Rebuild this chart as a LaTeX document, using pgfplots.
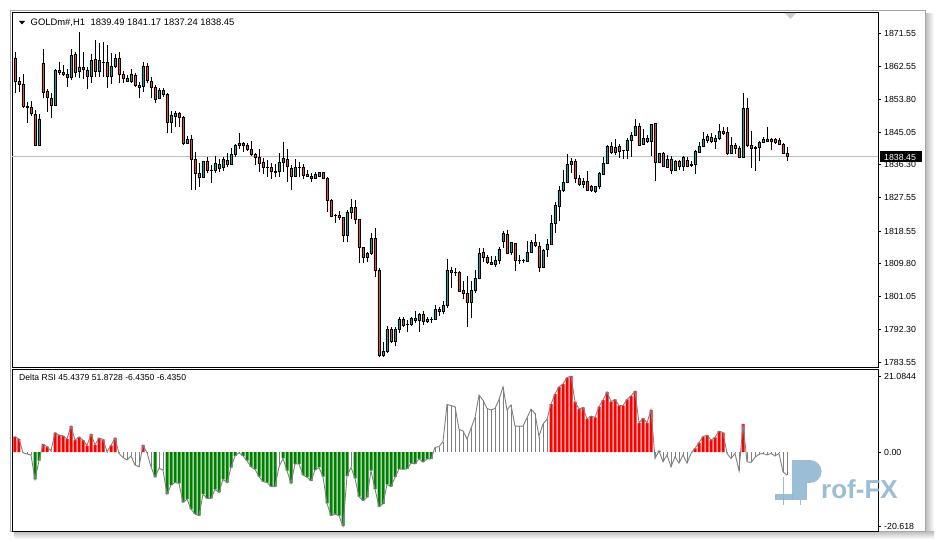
\documentclass[border=0pt]{standalone}
\usepackage{fontspec}
\setmainfont{Liberation Sans}
\usepackage{pgfplots}
\pgfplotsset{compat=1.18}
\usepackage{pgfplotstable}
\definecolor{bull}{RGB}{38,150,140}
\definecolor{bear}{RGB}{215,80,72}
\definecolor{pline}{RGB}{192,192,192}
\definecolor{dgray}{RGB}{128,128,128}
\definecolor{mtgreen}{RGB}{0,128,0}
\definecolor{wm}{RGB}{138,178,206}
\newcommand\lbl{\fontsize{8.8}{10}\selectfont}

\pgfplotstableread{
x o h l c
0 1864.77 1866.56 1855.41 1858.53
1 1858.53 1859.87 1855.86 1857.82
2 1857.91 1860.59 1851.40 1852.03
3 1852.03 1853.18 1847.57 1851.67
4 1851.67 1853.45 1849.35 1850.07
5 1849.80 1850.96 1841.42 1841.59
6 1841.59 1849.89 1841.33 1848.55
7 1863.44 1867.27 1854.08 1855.77
8 1855.86 1856.48 1850.51 1854.25
9 1854.08 1855.41 1848.90 1852.20
10 1852.20 1861.83 1852.03 1861.56
11 1861.56 1863.79 1860.32 1860.94
12 1861.12 1863.08 1860.05 1860.50
13 1860.50 1862.01 1857.02 1859.69
14 1859.69 1867.18 1858.98 1865.58
15 1865.84 1866.38 1859.69 1861.12
16 1861.30 1871.73 1859.43 1862.46
17 1862.46 1866.56 1859.16 1861.83
18 1861.56 1862.55 1856.48 1860.05
19 1860.05 1865.93 1858.27 1864.24
20 1864.51 1869.68 1859.87 1861.21
21 1861.21 1868.96 1859.87 1864.24
22 1863.79 1869.14 1859.69 1863.70
23 1863.79 1868.43 1856.75 1860.05
24 1860.05 1866.11 1857.82 1862.72
25 1862.72 1865.84 1862.10 1864.86
26 1864.77 1866.47 1858.09 1860.50
27 1860.50 1861.48 1858.27 1859.43
28 1859.43 1860.32 1858.53 1858.62
29 1858.62 1861.83 1858.27 1860.59
30 1860.32 1860.94 1857.19 1857.46
31 1857.55 1858.53 1854.08 1857.02
32 1857.19 1863.88 1855.86 1862.72
33 1862.72 1863.62 1858.09 1858.80
34 1858.71 1859.87 1854.08 1857.02
35 1857.02 1857.64 1852.74 1853.81
36 1854.08 1856.75 1853.81 1856.30
37 1856.21 1856.75 1854.52 1855.15
38 1855.15 1855.59 1844.72 1847.66
39 1847.66 1850.69 1844.89 1849.62
40 1849.35 1850.69 1846.50 1850.07
41 1850.07 1850.42 1846.32 1848.99
42 1848.99 1849.35 1841.59 1842.04
43 1842.04 1844.00 1841.86 1843.20
44 1843.20 1844.27 1829.56 1837.76
45 1837.76 1839.63 1829.56 1834.02
46 1834.02 1836.87 1830.45 1832.95
47 1832.95 1837.32 1832.68 1837.32
48 1837.32 1838.48 1834.02 1834.91
49 1834.91 1836.25 1831.52 1834.95
50 1834.73 1838.65 1834.19 1836.69
51 1835.35 1837.76 1834.46 1836.51
52 1835.62 1838.30 1834.73 1837.76
53 1837.58 1839.37 1835.80 1836.42
54 1836.42 1840.70 1836.25 1839.10
55 1839.10 1841.77 1838.30 1841.60
56 1841.51 1844.72 1840.44 1842.13
57 1842.13 1842.49 1839.81 1841.42
58 1841.60 1842.04 1840.08 1840.44
59 1840.44 1842.76 1838.65 1839.10
60 1839.10 1839.37 1836.25 1838.38
61 1838.38 1840.44 1834.46 1836.69
62 1836.96 1838.03 1833.75 1835.62
63 1835.62 1837.58 1833.12 1835.55
64 1835.62 1836.87 1832.41 1834.46
65 1834.46 1836.42 1832.95 1834.40
66 1834.46 1839.37 1833.12 1836.96
67 1836.96 1842.31 1834.46 1838.03
68 1837.85 1840.44 1831.79 1835.80
69 1835.35 1836.25 1829.56 1833.12
70 1833.12 1837.76 1833.12 1835.62
71 1835.62 1837.14 1833.12 1835.60
72 1835.62 1836.42 1832.41 1833.57
73 1833.84 1834.91 1832.95 1833.12
74 1833.30 1834.02 1831.79 1832.59
75 1832.59 1834.46 1832.41 1833.84
76 1833.22 1834.46 1832.95 1834.19
77 1834.19 1834.46 1832.41 1832.59
78 1832.68 1833.12 1823.77 1826.71
79 1826.88 1827.15 1822.25 1822.43
80 1822.70 1823.14 1820.82 1822.68
81 1822.78 1824.03 1821.54 1822.16
82 1822.25 1822.43 1815.74 1817.35
83 1817.35 1824.21 1815.74 1823.68
84 1823.50 1827.06 1821.72 1824.92
85 1824.92 1826.88 1820.47 1821.72
86 1821.72 1821.89 1809.95 1814.22
87 1814.22 1814.40 1810.12 1811.55
88 1811.55 1813.07 1810.21 1812.62
89 1812.62 1818.15 1812.17 1816.63
90 1816.63 1819.31 1806.38 1807.98
91 1808.16 1808.61 1784.81 1785.43
92 1785.43 1788.99 1784.81 1786.50
93 1786.32 1793.19 1785.88 1792.30
94 1792.30 1793.01 1788.72 1788.99
95 1788.99 1792.83 1787.93 1792.30
96 1792.30 1795.68 1791.22 1794.97
97 1795.06 1795.50 1793.01 1793.27
98 1793.72 1794.79 1791.66 1793.70
99 1793.63 1795.68 1793.19 1795.23
100 1794.61 1797.29 1794.08 1795.23
101 1794.61 1796.75 1791.67 1796.39
102 1796.39 1797.29 1793.45 1794.34
103 1794.34 1795.68 1794.08 1794.97
104 1794.97 1795.68 1793.90 1794.95
105 1794.97 1798.80 1794.79 1797.64
106 1797.64 1798.18 1795.86 1797.02
107 1797.02 1799.96 1796.39 1798.71
108 1798.71 1811.10 1797.91 1808.16
109 1808.16 1809.05 1803.44 1807.45
110 1807.45 1808.79 1806.56 1807.43
111 1807.45 1807.90 1802.37 1802.55
112 1802.72 1805.31 1800.32 1801.83
113 1801.92 1806.56 1793.01 1799.43
114 1799.43 1805.22 1795.23 1802.72
115 1802.72 1808.16 1801.92 1806.02
116 1806.02 1813.96 1805.67 1812.62
117 1812.89 1814.13 1810.39 1811.55
118 1811.55 1812.17 1809.68 1810.12
119 1810.30 1811.99 1809.50 1809.68
120 1809.68 1811.91 1809.05 1810.84
121 1810.84 1814.22 1809.68 1813.78
122 1815.74 1818.68 1814.13 1817.97
123 1817.70 1818.86 1812.35 1812.62
124 1812.80 1815.74 1812.17 1815.56
125 1815.29 1815.47 1807.98 1810.84
126 1810.66 1812.17 1809.77 1810.64
127 1810.66 1811.10 1809.95 1810.64
128 1810.57 1815.92 1810.39 1812.89
129 1812.89 1816.19 1812.62 1815.56
130 1815.56 1817.70 1814.22 1814.76
131 1814.58 1815.74 1807.54 1808.88
132 1808.79 1813.78 1808.61 1813.51
133 1813.69 1816.36 1811.73 1815.03
134 1815.03 1822.87 1814.85 1820.64
135 1820.64 1826.44 1818.15 1825.46
136 1825.28 1830.63 1821.36 1829.47
137 1829.47 1834.91 1829.11 1831.61
138 1831.52 1839.19 1831.34 1836.42
139 1836.42 1838.03 1834.02 1837.31
140 1837.22 1837.76 1831.34 1832.68
141 1832.68 1833.57 1830.72 1831.07
142 1831.07 1832.68 1830.18 1831.97
143 1831.97 1834.64 1829.29 1829.47
144 1830.63 1830.90 1829.11 1829.47
145 1829.20 1830.63 1828.67 1830.45
146 1830.45 1834.46 1829.82 1834.02
147 1833.84 1838.47 1833.66 1836.69
148 1836.69 1841.59 1836.51 1841.33
149 1841.24 1842.31 1839.19 1839.55
150 1839.55 1843.11 1838.92 1840.97
151 1841.24 1841.86 1838.03 1839.81
152 1840.08 1840.26 1837.76 1840.06
153 1840.08 1843.38 1837.76 1842.84
154 1842.75 1845.16 1838.48 1844.27
155 1844.27 1848.46 1843.99 1846.68
156 1846.68 1847.39 1841.33 1841.51
157 1841.77 1845.79 1841.60 1843.38
158 1843.38 1844.27 1842.22 1842.49
159 1842.49 1847.12 1838.65 1847.12
160 1847.30 1847.57 1832.06 1836.96
161 1836.96 1839.55 1836.69 1839.37
162 1839.37 1839.63 1835.62 1835.98
163 1835.62 1838.92 1835.35 1837.76
164 1837.76 1838.65 1833.84 1834.91
165 1834.91 1837.58 1834.73 1837.32
166 1837.32 1837.58 1834.91 1835.98
167 1835.98 1838.65 1834.73 1838.39
168 1837.58 1838.30 1835.62 1835.98
169 1836.51 1837.41 1835.62 1836.07
170 1836.42 1840.26 1833.84 1839.81
171 1839.55 1842.49 1839.37 1841.33
172 1841.33 1845.16 1840.97 1843.20
173 1842.93 1844.45 1842.04 1843.82
174 1843.74 1844.72 1842.04 1842.49
175 1842.49 1844.27 1840.53 1843.29
176 1843.29 1847.12 1842.93 1845.34
177 1845.34 1846.50 1844.27 1844.72
178 1844.89 1846.50 1838.92 1839.37
179 1839.37 1843.82 1839.19 1841.51
180 1841.51 1842.04 1839.19 1840.61
181 1840.70 1841.33 1838.03 1838.30
182 1838.30 1855.59 1838.03 1851.49
183 1851.49 1854.08 1841.15 1841.51
184 1841.51 1845.34 1835.53 1840.70
185 1840.97 1841.33 1834.73 1840.70
186 1840.97 1842.66 1837.41 1842.40
187 1842.22 1843.65 1842.04 1843.11
188 1842.66 1846.50 1842.49 1843.11
189 1843.11 1843.38 1840.26 1842.49
190 1843.11 1843.38 1841.77 1842.40
191 1842.93 1843.38 1841.77 1841.86
192 1841.86 1842.04 1839.19 1839.37
193 1839.49 1841.17 1837.24 1838.45
}\candles

\pgfplotstableread{
x v k
0 4.26 1
1 3.61 1
2 -0.2 0
3 -0.56 0
4 -0.83 0
5 -7.6 2
6 -2.4 2
7 2.2 1
8 1.5 1
9 0.3 0
10 5.4 1
11 4.7 1
12 4.5 1
13 3.6 1
14 7.2 1
15 3.3 1
16 4.2 1
17 3.3 1
18 1.8 1
19 5.0 1
20 2.0 1
21 3.9 1
22 3.5 1
23 0.1 0
24 1.85 1
25 3.9 1
26 -0.4 0
27 -1.5 0
28 -2.2 0
29 -1.1 0
30 -3.6 0
31 -4.1 0
32 1.9 1
33 -0.2 0
34 -4.1 0
35 -7.0 2
36 -4.5 0
37 -5.0 0
38 -11.7 2
39 -9.2 2
40 -8.5 2
41 -8.7 2
42 -14.0 2
43 -13.1 2
44 -15.9 2
45 -17.2 2
46 -17.7 2
47 -11.7 2
48 -12.9 2
49 -12.9 2
50 -10.4 2
51 -11.2 2
52 -7.6 2
53 -8.5 2
54 -4.35 2
55 -1.1 2
56 -0.2 0
57 -1.1 2
58 -2.4 2
59 -4.1 2
60 -4.8 2
61 -6.85 2
62 -8.2 2
63 -8.5 2
64 -9.6 2
65 -9.6 2
66 -4.1 0
67 -1.8 2
68 -5.2 2
69 -8.7 2
70 -3.3 2
71 -3.3 2
72 -6.4 2
73 -7.0 2
74 -8.0 2
75 -5.0 2
76 -4.3 2
77 -6.85 2
78 -14.3 2
79 -17.7 2
80 -17.2 2
81 -17.7 2
82 -20.618 2
83 -6.7 2
84 -4.3 0
85 -7.3 2
86 -12.4 2
87 -13.5 2
88 -12.6 2
89 -5.2 2
90 -10.3 2
91 -15.2 2
92 -14.4 2
93 -9.0 2
94 -9.6 2
95 -7.0 2
96 -4.7 2
97 -4.8 2
98 -4.7 2
99 -3.1 2
100 -3.3 2
101 -1.9 2
102 -2.8 2
103 -1.9 2
104 -1.9 2
105 1.3 0
106 1.5 0
107 2.9 0
108 13.2 0
109 12.9 0
110 12.6 0
111 6.3 0
112 5.9 0
113 3.6 0
114 6.6 0
115 9.6 0
116 15.8 0
117 14.4 0
118 12.1 0
119 11.7 0
120 12.1 0
121 14.6 0
122 18.1 0
123 11.7 0
124 13.1 0
125 7.2 0
126 7.2 0
127 7.2 0
128 9.5 0
129 11.9 0
130 10.7 0
131 4.3 0
132 7.8 0
133 9.1 0
134 13.3 1
135 16.1 1
136 18.1 1
137 18.9 1
138 20.7 1
139 21.0844 1
140 14.0 1
141 11.9 1
142 12.4 1
143 9.2 1
144 10.0 1
145 9.6 1
146 12.6 1
147 14.4 1
148 16.7 1
149 14.0 1
150 14.6 1
151 12.9 1
152 12.9 1
153 14.6 1
154 15.6 1
155 16.9 1
156 8.1 1
157 9.4 1
158 8.1 1
159 11.7 1
160 -1.8 0
161 0.3 1
162 -2.7 0
163 -0.8 0
164 -4.1 0
165 -1.3 0
166 -3.1 0
167 -0.8 0
168 -3.1 0
169 -0.4 0
170 1.0 1
171 2.6 1
172 4.3 1
173 4.7 1
174 3.3 1
175 4.1 1
176 5.8 1
177 5.4 1
178 -0.4 0
179 -1.8 0
180 -0.4 0
181 -5.2 0
182 7.8 1
183 -2.7 0
184 -2.9 0
185 -1.5 0
186 -0.6 0
187 -0.4 0
188 -0.8 0
189 -0.4 0
190 -1.1 0
191 -0.4 0
192 -5.5 0
193 -6.435 0
}\drsi

\pgfplotsset{
  mtaxis/.style={
    anchor=south west, width=866pt, scale only axis,
    xmin=-0.75, xmax=215.75,
    axis line style={black, line width=0.8pt},
    xtick=\empty,
    ytick pos=right, yticklabel pos=right, tick align=outside,
    major tick length=3pt, tick style={black, line width=0.8pt},
    yticklabel style={font=\lbl, anchor=west, inner sep=0pt, xshift=3pt},
  }
}

\begin{document}
\begin{tikzpicture}[x=1pt,y=1pt]
\path[use as bounding box] (0,0) rectangle (937,541);
\fill[white] (0,0) rectangle (937,541);
% window shadow and frame
\shade[left color=gray!55, right color=white] (925,3) rectangle (934,527);
\shade[top color=gray!55, bottom color=white] (14,2) rectangle (934,10);
\fill[white] (10,10) rectangle (925,531);
\draw[gray!70, line width=0.8pt] (10,10) rectangle (925,531);

% main price axis (wicks, price line, ticks)
\begin{axis}[mtaxis, at={(12pt,174pt)}, height=355pt,
  ymin=1782.22, ymax=1877.17,
  ytick={1783.55,1792.30,1801.05,1809.80,1818.55,1827.55,1836.30,1845.05,1853.80,1862.55,1871.55},
  yticklabels={1783.55,1792.30,1801.05,1809.80,1818.55,1827.55,1836.30,1845.05,1853.80,1862.55,1871.55},
]
\addplot[pline, line width=0.8pt, forget plot] coordinates {(-0.75,1838.45) (215.75,1838.45)};
\addplot[draw=none, fill=none, mark=none, forget plot,
  error bars/.cd, y dir=plus, y explicit, error mark=none,
  error bar style={draw=black, line width=0.9pt, solid}]
  table[x=x, y=l, y error expr=\thisrow{h}-\thisrow{l}] {\candles};
\end{axis}

% candle bodies
\begin{axis}[anchor=south west, at={(12pt,174pt)}, width=866pt, height=355pt, scale only axis,
  xmin=-0.75, xmax=215.75, ymin=1782.22, ymax=1877.17,
  hide axis, ybar stacked, bar width=2.4pt]
\addplot[draw=none, fill=none] table[x=x, y expr={min(\thisrow{o},\thisrow{c})}] {\candles};
\addplot[draw=black, fill=bull, line width=0.6pt] table[x=x, y expr={max(\thisrow{c}-\thisrow{o},0)}] {\candles};
\addplot[draw=black, fill=bear, line width=0.6pt] table[x=x, y expr={max(\thisrow{o}-\thisrow{c},0)}] {\candles};
\end{axis}

% Delta RSI panel
\begin{axis}[mtaxis, at={(12pt,10pt)}, height=162pt,
  ymin=-21.94, ymax=23.06,
  ytick={-20.618,0,21.0844},
  yticklabels={-20.618,0.00,21.0844},
]
\addplot[ybar, bar width=3pt, bar shift=0pt, fill=red, draw=none,
  restrict expr to domain={\thisrow{k}}{1:1}] table[x=x, y=v] {\drsi};
\addplot[ybar, bar width=3pt, bar shift=0pt, fill=mtgreen, draw=none,
  restrict expr to domain={\thisrow{k}}{2:2}] table[x=x, y=v] {\drsi};
\addplot[ycomb, draw=dgray, line width=0.8pt, mark=none,
  restrict expr to domain={\thisrow{k}}{0:0}] table[x=x, y=v] {\drsi};
\addplot[draw=dgray, line width=0.9pt, mark=none] table[x=x, y=v] {\drsi};
\end{axis}

% header texts
\fill[black] (19,520) -- (25,520) -- (22,516.5) -- cycle;
\node[anchor=base west, font=\fontsize{9.4}{10}\selectfont, inner sep=0pt] at (30.5,515.7) {GOLDm\#,H1\hspace{0.6em}1839.49 1841.17 1837.24 1838.45};
\node[anchor=base west, font=\fontsize{8.6}{10}\selectfont, inner sep=0pt] at (19,160.8) {Delta RSI 45.4379 51.8728 -6.4350 -6.4350};
% chart shift marker
\fill[gray!40] (785,528) -- (796,528) -- (790.5,522) -- cycle;
% current price label
\fill[black] (880,378.5) rectangle (922,389.5);
\node[anchor=base west, font=\lbl, text=white, inner sep=0pt] at (884,380.7) {1838.45};
% watermark
\begin{scope}[opacity=0.85]
\fill[wm] (775,41) rectangle (793,47);
\fill[wm] (782.5,36) rectangle (784,64);
\fill[wm] (799.5,36) rectangle (801,41);
\fill[wm] (792,41) rectangle (807,81);
\fill[wm] (807,81) -- (810,81) arc[start angle=90, end angle=-90, radius=11.5] -- (807,58) -- cycle;
\node[anchor=base west, inner sep=0pt, text=wm, font=\bfseries\fontsize{26}{26}\selectfont] at (821,42) {rof-FX};
\end{scope}
\end{tikzpicture}
\end{document}
